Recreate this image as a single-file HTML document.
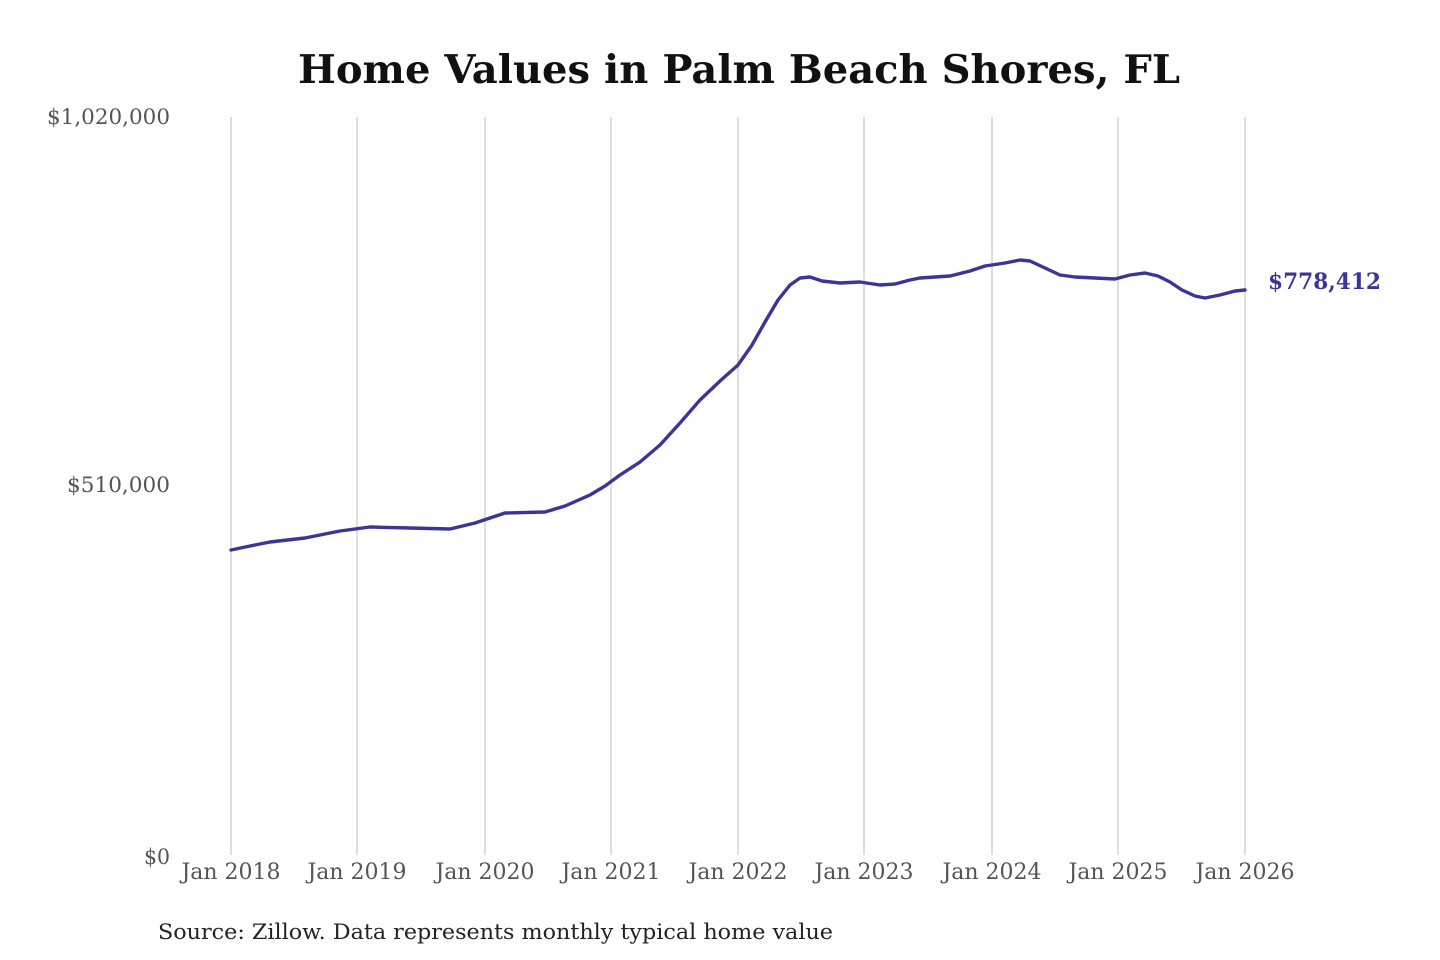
<!DOCTYPE html>
<html><head><meta charset="utf-8"><style>
html,body{margin:0;padding:0;background:#fff;width:1440px;height:960px;overflow:hidden}
</style></head><body>
<svg width="1440" height="960" xmlns="http://www.w3.org/2000/svg" font-family="'DejaVu Serif','Liberation Serif',serif">
<text x="298" y="83" font-size="39" font-weight="bold" fill="#111" textLength="882" lengthAdjust="spacingAndGlyphs">Home Values in Palm Beach Shores, FL</text>
<g stroke="#c8c8c8" stroke-width="1.2">
<line x1="231" y1="117" x2="231" y2="855"/><line x1="357" y1="117" x2="357" y2="855"/>
<line x1="485" y1="117" x2="485" y2="855"/><line x1="611" y1="117" x2="611" y2="855"/>
<line x1="738" y1="117" x2="738" y2="855"/><line x1="864" y1="117" x2="864" y2="855"/>
<line x1="992" y1="117" x2="992" y2="855"/><line x1="1118" y1="117" x2="1118" y2="855"/>
<line x1="1245" y1="117" x2="1245" y2="855"/>
</g>
<g font-size="21" fill="#555">
<text x="47" y="124" textLength="123" lengthAdjust="spacingAndGlyphs">$1,020,000</text>
<text x="67" y="492" textLength="103" lengthAdjust="spacingAndGlyphs">$510,000</text>
<text x="144" y="864" textLength="26" lengthAdjust="spacingAndGlyphs">$0</text>
</g>
<g font-size="22" fill="#555" text-anchor="middle">
<text x="231" y="879">Jan 2018</text><text x="357" y="879">Jan 2019</text>
<text x="485" y="879">Jan 2020</text><text x="611" y="879">Jan 2021</text>
<text x="738" y="879">Jan 2022</text><text x="864" y="879">Jan 2023</text>
<text x="992" y="879">Jan 2024</text><text x="1118" y="879">Jan 2025</text>
<text x="1245" y="879">Jan 2026</text>
</g>
<path fill="none" stroke="#3a3597" stroke-width="3.4" stroke-linejoin="round" stroke-linecap="round"
d="M231,550 L250,546 L270,542 L305,538 L340,531 L370,527 L410,528 L450,529 L475,523 L505,513 L545,512 L565,506 L590,495 L605,486 L620,475 L640,462 L660,445 L680,423 L700,400 L720,381 L738,365 L752,345 L765,322 L778,300 L790,285 L800,278 L810,277 L822,281 L840,283 L860,282 L880,285 L895,284 L910,280 L920,278 L950,276 L970,271 L985,266 L1005,263 L1020,260 L1030,261 L1045,268 L1060,275 L1075,277 L1095,278 L1115,279 L1130,275 L1145,273 L1158,276 L1170,282 L1182,290 L1195,296 L1205,298 L1220,295 L1235,291 L1245,290"/>
<text x="1268" y="289" font-size="22" font-weight="bold" fill="#3a3597" textLength="113" lengthAdjust="spacingAndGlyphs">$778,412</text>
<text x="158" y="939" font-size="21" fill="#222" textLength="675" lengthAdjust="spacingAndGlyphs">Source: Zillow. Data represents monthly typical home value</text>
</svg>
</body></html>
